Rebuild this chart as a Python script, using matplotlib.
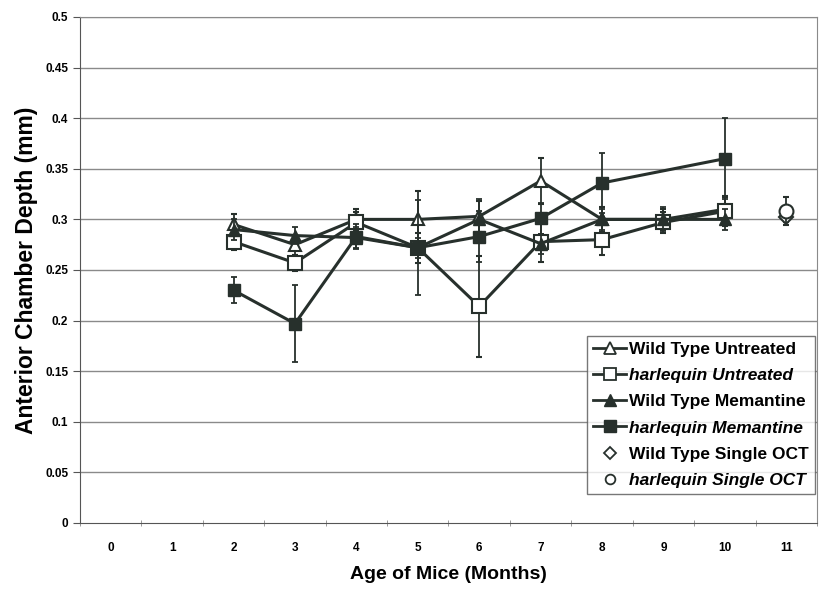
import matplotlib
matplotlib.use("Agg")
import matplotlib.pyplot as plt
import numpy as np
from matplotlib.lines import Line2D

plt.rcParams['font.family'] = ['Liberation Sans', 'DejaVu Sans']

categories = list(range(12))

x_main = [2, 3, 4, 5, 6, 7, 8, 9, 10]
wt_untreated = [0.295, 0.275, 0.300, 0.300, 0.303, 0.338, 0.300, 0.300, 0.310]
wt_untreated_err = [0.010, 0.010, 0.010, 0.028, 0.015, 0.023, 0.012, 0.010, 0.012]

harl_untreated = [0.278, 0.257, 0.297, 0.272, 0.214, 0.278, 0.280, 0.297, 0.308]
harl_untreated_err = [0.008, 0.008, 0.010, 0.015, 0.050, 0.020, 0.015, 0.010, 0.015]

wt_memantine = [0.290, 0.284, 0.282, 0.272, 0.300, 0.276, 0.300, 0.300, 0.300]
wt_memantine_err = [0.010, 0.008, 0.010, 0.010, 0.020, 0.010, 0.010, 0.012, 0.010]

x_harl_mem = [2, 3, 4, 5, 6, 7, 8, 10]
harl_memantine = [0.230, 0.197, 0.283, 0.272, 0.283, 0.301, 0.336, 0.360]
harl_memantine_err = [0.013, 0.038, 0.012, 0.047, 0.025, 0.015, 0.030, 0.040]

x_single = [11]
wt_single = [0.302]
wt_single_err = [0.005]
harl_single = [0.308]
harl_single_err = [0.014]

yticks = [0, 0.05, 0.1, 0.15, 0.2, 0.25, 0.3, 0.35, 0.4, 0.45, 0.5]
ytick_labels = ['0', '0.05', '0.1', '0.15', '0.2', '0.25', '0.3', '0.35', '0.4', '0.45', '0.5']

C = '#27302c'

fig = plt.figure(figsize=(8.23, 5.90), dpi=100)
ax = fig.add_axes([0.0972, 0.1136, 0.8955, 0.8576])

for y in yticks[1:]:
    ax.axhline(y, color='#8a8a8a', lw=1.0, zorder=0)

ekw = dict(ecolor=C, elinewidth=1.3, capsize=2.5, capthick=1.3)

ax.errorbar(x_main, wt_untreated, yerr=wt_untreated_err, color=C, lw=2.2,
            marker='^', ms=9, mfc='white', mec=C, mew=1.5, zorder=3, **ekw)
ax.errorbar(x_main, harl_untreated, yerr=harl_untreated_err, color=C, lw=2.2,
            marker='s', ms=10, mfc='white', mec=C, mew=1.5, zorder=3, **ekw)
ax.errorbar(x_main, wt_memantine, yerr=wt_memantine_err, color=C, lw=2.2,
            marker='^', ms=9, mfc=C, mec=C, zorder=4, **ekw)
ax.errorbar(x_harl_mem, harl_memantine, yerr=harl_memantine_err, color=C, lw=2.2,
            marker='s', ms=9, mfc=C, mec=C, zorder=4, **ekw)
ax.errorbar(x_single, wt_single, yerr=wt_single_err, color=C, ls='none',
            marker='D', ms=7, mfc='white', mec=C, mew=1.5, zorder=3, **ekw)
ax.errorbar(x_single, harl_single, yerr=harl_single_err, color=C, ls='none',
            marker='o', ms=10, mfc='white', mec=C, mew=1.5, zorder=4, **ekw)

ax.set_xlim(-0.5, 11.5)
ax.set_ylim(0, 0.5)
ax.set_xticks(categories)
ax.set_xticklabels([str(c) for c in categories], fontsize=8.5, fontweight='bold')
ax.set_xticks(np.arange(-0.5, 11.6, 1), minor=True)
ax.tick_params(axis='x', which='major', length=0, pad=14)
ax.tick_params(axis='x', which='minor', length=4, direction='inout', color='#8a8a8a')
ax.set_yticks(yticks)
ax.set_yticklabels(ytick_labels, fontsize=8.5, fontweight='bold')
ax.tick_params(axis='y', length=5, direction='out', color='#555555')

for s in ['top', 'right']:
    ax.spines[s].set_color('#8a8a8a')
for s in ['left', 'bottom']:
    ax.spines[s].set_color('#555555')

ax.set_xlabel('Age of Mice (Months)', fontsize=14, fontweight='bold', labelpad=8)
ax.set_ylabel('Anterior Chamber Depth (mm)', fontsize=16.5, fontweight='bold', labelpad=5)

handles = [
    Line2D([], [], color=C, lw=2, marker='^', ms=8, mfc='white', mec=C, mew=1.3),
    Line2D([], [], color=C, lw=2, marker='s', ms=9, mfc='white', mec=C, mew=1.3),
    Line2D([], [], color=C, lw=2, marker='^', ms=8, mfc=C, mec=C),
    Line2D([], [], color=C, lw=2, marker='s', ms=8, mfc=C, mec=C),
    Line2D([], [], ls='none', marker='D', ms=6, mfc='white', mec=C, mew=1.3),
    Line2D([], [], ls='none', marker='o', ms=7, mfc='white', mec=C, mew=1.3),
]
labels = ['Wild Type Untreated', 'harlequin Untreated', 'Wild Type Memantine',
          'harlequin Memantine', 'Wild Type Single OCT', 'harlequin Single OCT']
leg = ax.legend(handles, labels, loc='lower right', bbox_to_anchor=(0.997, 0.057),
                fontsize=12.5, frameon=True, fancybox=False, edgecolor='#555555',
                handlelength=1.9, handletextpad=0.15, borderpad=0.35, labelspacing=0.64,
                borderaxespad=0)
leg.get_frame().set_linewidth(1.0)
for t, lab in zip(leg.get_texts(), labels):
    t.set_fontweight('bold')
    if lab.startswith('harlequin'):
        t.set_fontstyle('italic')

fig.savefig('out.png', dpi=100)
